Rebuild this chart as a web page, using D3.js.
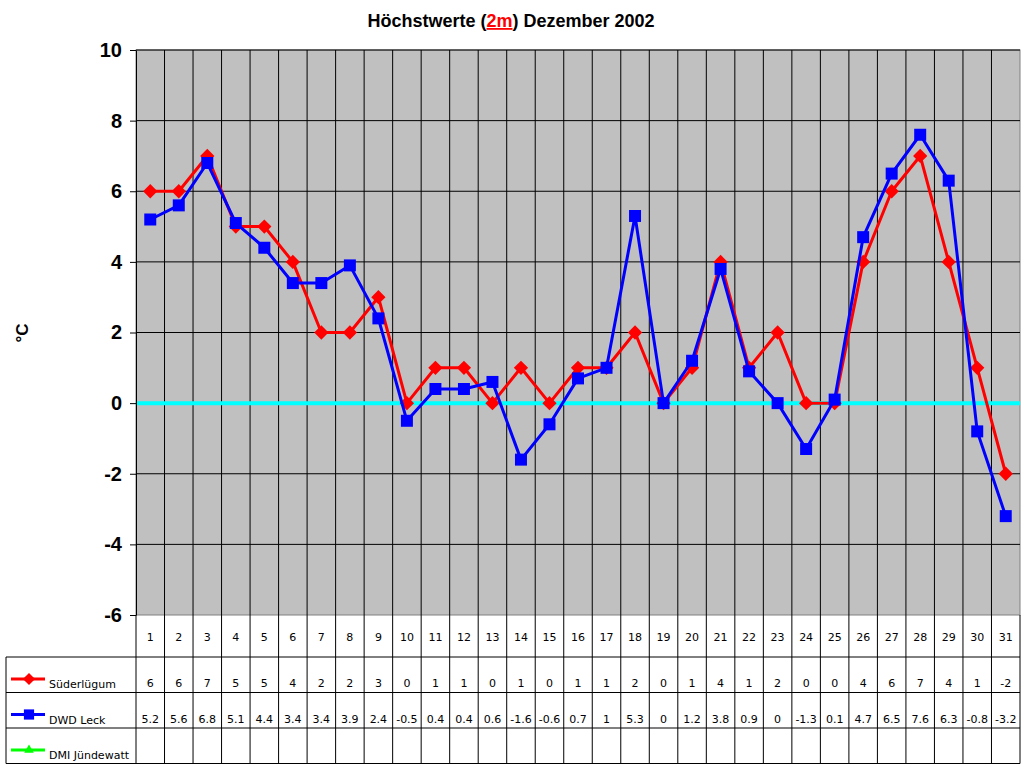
<!DOCTYPE html>
<html>
<head>
<meta charset="utf-8">
<script src="https://cdn.jsdelivr.net/npm/d3@7"></script>
<style>
  body { margin: 0; background: #fff; }
  svg { display: block; font-family: "Liberation Sans", Arial, sans-serif; }
</style>
</head>
<body>
<svg id="chart" width="1024" height="768"></svg>
<script>
const days = d3.range(1, 32);
const suederluegum = [6, 6, 7, 5, 5, 4, 2, 2, 3, 0, 1, 1, 0, 1, 0, 1, 1, 2, 0, 1, 4, 1, 2, 0, 0, 4, 6, 7, 4, 1, -2];
const dwdLeck = [5.2, 5.6, 6.8, 5.1, 4.4, 3.4, 3.4, 3.9, 2.4, -0.5, 0.4, 0.4, 0.6, -1.6, -0.6, 0.7, 1, 5.3, 0, 1.2, 3.8, 0.9, 0, -1.3, 0.1, 4.7, 6.5, 7.6, 6.3, -0.8, -3.2];
const dmiJuendewatt = [];
const yTicks = [-6, -4, -2, 0, 2, 4, 6, 8, 10];

const series = [
  {name: "Süderlügum", values: suederluegum, color: "#ff0000", marker: "diamond"},
  {name: "DWD Leck", values: dwdLeck, color: "#0000ff", marker: "square"},
  {name: "DMI Jündewatt", values: dmiJuendewatt, color: "#00ff00", marker: "triangle"}
];

const margin = {top: 50, right: 4, bottom: 153, left: 136};
const width = 1024, height = 768;
const svg = d3.select("#chart");

const x = d3.scaleBand()
    .domain(days)
    .range([margin.left, width - margin.right]);

const y = d3.scaleLinear()
    .domain([-6, 10])
    .range([height - margin.bottom, margin.top]);

// plot background
svg.append("rect")
    .attr("x", margin.left).attr("y", margin.top)
    .attr("width", width - margin.right - margin.left)
    .attr("height", y(-6) - margin.top)
    .attr("fill", "#c0c0c0")
    .attr("stroke", "#808080");

// vertical grid at category boundaries
svg.append("g")
    .selectAll("line")
    .data(days.slice(1))
    .join("line")
    .attr("x1", d => x(d)).attr("x2", d => x(d))
    .attr("y1", margin.top).attr("y2", y(-6))
    .attr("stroke", "#000").attr("stroke-width", 1);

// horizontal grid
svg.append("g")
    .selectAll("line")
    .data(yTicks.filter(t => t !== -6 && t !== 0))
    .join("line")
    .attr("x1", margin.left).attr("x2", width - margin.right)
    .attr("y1", d => y(d)).attr("y2", d => y(d))
    .attr("stroke", "#000").attr("stroke-width", 1);

// zero line
svg.append("line")
    .attr("x1", margin.left).attr("x2", width - margin.right)
    .attr("y1", y(0)).attr("y2", y(0))
    .attr("stroke", "#00ffff").attr("stroke-width", 4);

// y axis (plain hyphen for negatives, as in the original)
const yAxis = svg.append("g")
    .attr("transform", `translate(${margin.left},0)`)
    .call(d3.axisLeft(y).tickValues(yTicks).tickFormat(d => String(d))
        .tickSize(6).tickPadding(8).tickSizeOuter(0));
yAxis.select(".domain").attr("stroke", "#000");
yAxis.selectAll("text")
    .attr("font-family", "'Liberation Sans', Arial, sans-serif")
    .attr("font-size", 20).attr("font-weight", "bold").attr("fill", "#000");

// y label
svg.append("text")
    .attr("transform", "translate(28,333) rotate(-90)")
    .attr("text-anchor", "middle")
    .attr("font-size", 17).attr("font-weight", "bold")
    .text("°C");

// title
const title = svg.append("text")
    .attr("x", 511).attr("y", 27)
    .attr("text-anchor", "middle")
    .attr("font-size", 18).attr("font-weight", "bold");
title.append("tspan").text("Höchstwerte (");
title.append("tspan").attr("fill", "#ff0000").attr("text-decoration", "underline").text("2m");
title.append("tspan").text(") Dezember 2002");

// markers
const markerPath = {
  diamond: d3.symbol(d3.symbolDiamond2, 130)(),
  square: d3.symbol(d3.symbolSquare, 144)(),
  triangle: d3.symbol(d3.symbolTriangle2, 90)()
};

const line = d3.line()
    .x((d, i) => x(days[i]) + x.bandwidth() / 2)
    .y(d => y(d));

for (const s of series) {
  if (!s.values.length) continue;
  svg.append("path")
      .datum(s.values)
      .attr("fill", "none")
      .attr("stroke", s.color)
      .attr("stroke-width", 3)
      .attr("stroke-linejoin", "round")
      .attr("d", line);
  svg.append("g")
      .selectAll("path")
      .data(s.values)
      .join("path")
      .attr("transform", (d, i) => `translate(${x(days[i]) + x.bandwidth() / 2},${y(d)})`)
      .attr("d", markerPath[s.marker])
      .attr("fill", s.color);
}

// data table
const tableTop = y(-6);
const headerH = 42, rowH = 35.5;
const legendLeft = 6;
const tableFont = "'DejaVu Sans', 'Noto Sans', sans-serif";
const table = svg.append("g").attr("font-family", tableFont).attr("font-size", 11);

// header row with day numbers
table.append("g")
    .selectAll("text")
    .data(days)
    .join("text")
    .attr("x", d => x(d) + x.bandwidth() / 2)
    .attr("y", tableTop + 26)
    .attr("text-anchor", "middle")
    .text(d => d);

series.forEach((s, r) => {
  const top = tableTop + headerH + r * rowH;
  // legend key
  table.append("line")
      .attr("x1", legendLeft + 5).attr("x2", legendLeft + 39)
      .attr("y1", top + 22).attr("y2", top + 22)
      .attr("stroke", s.color).attr("stroke-width", 3);
  table.append("path")
      .attr("transform", `translate(${legendLeft + 23},${top + 22}) scale(0.85)`)
      .attr("d", markerPath[s.marker])
      .attr("fill", s.color);
  table.append("text")
      .attr("x", legendLeft + 43).attr("y", top + 31)
      .text(s.name);
  table.append("g")
      .selectAll("text")
      .data(s.values)
      .join("text")
      .attr("x", (d, i) => x(days[i]) + x.bandwidth() / 2)
      .attr("y", top + 30)
      .attr("text-anchor", "middle")
      .text(d => d);
});

// table grid
const grid = svg.append("g").attr("stroke", "#000").attr("stroke-width", 1).attr("fill", "none");
const tableBottom = tableTop + headerH + 3 * rowH;
for (let r = 0; r <= 3; r++) {
  const yy = tableTop + headerH + r * rowH;
  grid.append("line").attr("x1", legendLeft).attr("x2", width - margin.right).attr("y1", yy).attr("y2", yy);
}
grid.append("line").attr("x1", legendLeft).attr("x2", legendLeft)
    .attr("y1", tableTop + headerH).attr("y2", tableBottom);
grid.selectAll(".col")
    .data(days.concat([32]))
    .join("line")
    .attr("x1", d => d === 32 ? width - margin.right : x(d))
    .attr("x2", d => d === 32 ? width - margin.right : x(d))
    .attr("y1", tableTop).attr("y2", tableBottom);
</script>
</body>
</html>
